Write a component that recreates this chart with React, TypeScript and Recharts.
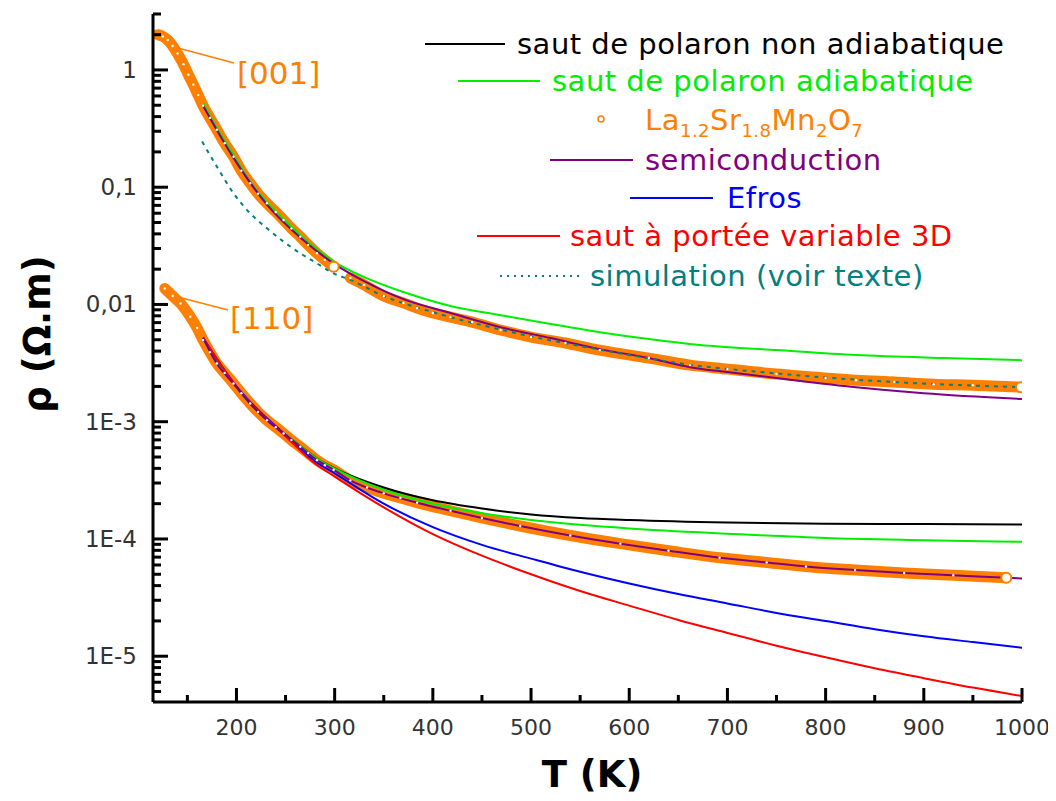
import { LineChart, Line, XAxis, YAxis } from 'recharts'

const FONT = '"DejaVu Sans", Verdana, sans-serif'
const ORANGE = '#ff8000'

// axes
const X_MIN = 115
const X_MAX = 1000
const Y_MIN = 4.07e-6
const Y_MAX = 3
const X_MAJOR = [200, 300, 400, 500, 600, 700, 800, 900, 1000]
const X_MINOR = [150, 250, 350, 450, 550, 650, 750, 850, 950]
const Y_MAJOR = [1e-5, 1e-4, 1e-3, 0.01, 0.1, 1]
const Y_LABELS = ['1E-5', '1E-4', '1E-3', '0,01', '0,1', '1']

// [001] mesures, deux segments
const T_001_A = [120, 125, 130, 135, 140, 146, 151, 156, 161, 166, 173, 180, 188, 197, 205, 214, 222, 231, 240, 248, 256, 265, 273, 282, 290, 299]
const RHO_001_A = [2.0, 1.93, 1.8, 1.6, 1.38, 1.12, 0.91, 0.75, 0.61, 0.495, 0.39, 0.309, 0.237, 0.182, 0.138, 0.108, 0.088, 0.0729, 0.0615, 0.0525, 0.0445, 0.0378, 0.0322, 0.0273, 0.024, 0.021]
const T_001_B = [316, 330, 350, 370, 384, 400, 418, 440, 469, 500, 535, 570, 620, 662, 700, 750, 800, 831, 870, 910, 950, 999]
const RHO_001_B = [0.0168, 0.0147, 0.0118, 0.0103, 0.00931, 0.00845, 0.0078, 0.00708, 0.00605, 0.00527, 0.00469, 0.00408, 0.00349, 0.00304, 0.00281, 0.00255, 0.00236, 0.00226, 0.00218, 0.00209, 0.00205, 0.00197]

// [001] ajustements
const T_001_ADIA = [166, 180, 197, 214, 231, 248, 265, 282, 300, 330, 370, 418, 469, 520, 570, 620, 672, 750, 831, 920, 1000]
const RHO_001_ADIA = [0.52, 0.32, 0.188, 0.111, 0.0745, 0.0535, 0.039, 0.0295, 0.023, 0.0171, 0.01276, 0.0097, 0.0081, 0.0068, 0.0058, 0.00507, 0.00451, 0.00408, 0.0037, 0.00349, 0.00335]
const T_001_SEMI = [166, 197, 231, 265, 300, 330, 370, 418, 469, 520, 570, 620, 662, 700, 750, 831, 900, 1000]
const RHO_001_SEMI = [0.495, 0.178, 0.071, 0.0372, 0.0221, 0.0158, 0.0111, 0.00845, 0.0064, 0.00517, 0.00416, 0.00349, 0.00292, 0.00265, 0.00236, 0.00197, 0.00175, 0.00156]
const T_001_SIM = [165, 180, 197, 214, 231, 248, 265, 282, 299, 316, 350, 400, 469, 570, 662, 750, 831, 920, 1000]
const RHO_001_SIM = [0.245, 0.15, 0.0887, 0.0598, 0.0446, 0.0343, 0.0273, 0.0224, 0.0184, 0.0162, 0.0118, 0.0086, 0.0061, 0.00412, 0.00306, 0.00258, 0.00228, 0.00208, 0.00197]

// [110] mesures
const T_110 = [127, 135, 143, 153, 160, 166, 173, 180, 188, 197, 205, 214, 222, 231, 240, 248, 256, 265, 273, 282, 290, 299, 316, 333, 350, 367, 384, 418, 450, 489, 540, 591, 640, 692, 740, 780, 830, 880, 930, 984]
const RHO_110 = [0.0137, 0.0118, 0.0102, 0.00785, 0.00629, 0.00497, 0.00392, 0.00314, 0.0026, 0.00212, 0.00175, 0.00143, 0.00121, 0.00103, 0.000899, 0.000794, 0.000697, 0.000611, 0.00054, 0.00047, 0.000426, 0.000389, 0.000316, 0.000275, 0.000245, 0.000224, 0.000204, 0.000174, 0.000151, 0.000129, 0.000107, 9.12e-5, 7.94e-5, 6.92e-5, 6.31e-5, 5.82e-5, 5.43e-5, 5.13e-5, 4.9e-5, 4.68e-5]

// [110] ajustements
const T_110_NONADIA = [166, 180, 197, 214, 231, 248, 265, 282, 300, 350, 400, 450, 500, 550, 600, 700, 800, 900, 1005]
const RHO_110_NONADIA = [0.0052, 0.0032, 0.00212, 0.00143, 0.00104, 0.0008, 0.00062, 0.000485, 0.0004, 0.000275, 0.000214, 0.000182, 0.000162, 0.000151, 0.000145, 0.000138, 0.000135, 0.000134, 0.000133]
const T_110_ADIA = [166, 180, 197, 214, 231, 248, 265, 282, 300, 350, 400, 450, 500, 550, 600, 700, 800, 900, 1005]
const RHO_110_ADIA = [0.0052, 0.0032, 0.00212, 0.00143, 0.00104, 0.0008, 0.00062, 0.000485, 0.000398, 0.000263, 0.0002, 0.000166, 0.000145, 0.000132, 0.000123, 0.000111, 0.000102, 9.77e-5, 9.44e-5]
const T_110_SEMI = [166, 180, 197, 214, 231, 248, 265, 282, 299, 316, 350, 384, 418, 450, 489, 540, 591, 640, 692, 740, 780, 830, 880, 930, 1000]
const RHO_110_SEMI = [0.0052, 0.00314, 0.00212, 0.00143, 0.00103, 0.000794, 0.000611, 0.00047, 0.000389, 0.000316, 0.000245, 0.000204, 0.000174, 0.000151, 0.000129, 0.000107, 9.12e-5, 7.94e-5, 6.92e-5, 6.31e-5, 5.82e-5, 5.43e-5, 5.13e-5, 4.9e-5, 4.6e-5]
const T_110_EFROS = [166, 200, 250, 280, 300, 350, 400, 450, 500, 550, 600, 650, 700, 750, 800, 850, 900, 950, 1005]
const RHO_110_EFROS = [0.0052, 0.002, 0.00077, 0.00046, 0.000363, 0.0002, 0.000126, 8.9e-5, 6.8e-5, 5.25e-5, 4.17e-5, 3.39e-5, 2.82e-5, 2.34e-5, 2.0e-5, 1.7e-5, 1.48e-5, 1.32e-5, 1.17e-5]
const T_110_VRH = [166, 200, 250, 280, 300, 350, 400, 450, 500, 550, 600, 650, 700, 750, 800, 850, 900, 950, 1005]
const RHO_110_VRH = [0.0052, 0.00198, 0.00075, 0.00044, 0.00034, 0.000186, 0.00011, 7.2e-5, 5.0e-5, 3.6e-5, 2.7e-5, 2.04e-5, 1.58e-5, 1.23e-5, 9.8e-6, 7.9e-6, 6.5e-6, 5.4e-6, 4.5e-6]

const rows = (ts: number[], rs: number[]) => ts.map((T, i) => ({ T, rho: rs[i] }))

const bandDot = (n: number) => (p: any) => {
  const { cx, cy, index } = p
  if (index === n - 1) return <circle key={index} cx={cx} cy={cy} r={5} fill="#fff" stroke={ORANGE} strokeWidth={2} />
  return <circle key={index} cx={cx} cy={cy} r={1.2} fill="#fff" />
}

function XTick(p: any) {
  const v = p.payload.value
  const major = X_MAJOR.includes(v)
  return (
    <g>
      <line x1={p.x} y1={p.y} x2={p.x} y2={p.y - (major ? 14 : 7)} stroke="#000" strokeWidth={3} />
      {major && (
        <text x={p.x} y={p.y + 33} textAnchor="middle" fontSize={22} fill="#333" fontFamily={FONT}>{v}</text>
      )}
    </g>
  )
}

function YTick(p: any) {
  const v = p.payload.value
  const i = Y_MAJOR.findIndex(m => Math.abs(m - v) / m < 1e-6)
  const major = i >= 0
  return (
    <g>
      <line x1={p.x} y1={p.y} x2={p.x + (major ? 15 : 8)} y2={p.y} stroke="#000" strokeWidth={3} />
      {major && (
        <text x={p.x - 16} y={p.y + 8} textAnchor="end" fontSize={23} fill="#333" fontFamily={FONT}>{Y_LABELS[i]}</text>
      )}
    </g>
  )
}

const xTicks = [...X_MINOR, ...X_MAJOR].sort((a, b) => a - b)
const yTicks: number[] = []
for (let e = -6; e <= 0; e++) {
  for (let m = 1; m <= 9; m++) {
    const v = m * Math.pow(10, e)
    if (v >= Y_MIN && v <= Y_MAX * 1.0001) yTicks.push(v)
  }
}

const LEGEND = [
  { label: 'saut de polaron non adiabatique', color: '#000000', x: 509, y: 36, lx: [417, 497] },
  { label: 'saut de polaron adiabatique', color: '#00ee00', x: 544, y: 73, lx: [450, 532] },
  { label: 'semiconduction', color: '#800080', x: 637, y: 152, lx: [542, 625] },
  { label: 'Efros', color: '#0000ff', x: 719, y: 190, lx: [622, 705] },
  { label: 'saut à portée variable 3D', color: '#ff0000', x: 562, y: 228, lx: [469, 552] },
]

const W = 1048
const H = 793

export default function App() {
  const line = (key: string, data: any[], color: string, dash?: string) => (
    <Line key={key} data={data} dataKey="rho" type="monotone" stroke={color} strokeWidth={2}
      strokeDasharray={dash} dot={false} isAnimationActive={false} />
  )
  return (
    <div style={{ position: 'relative', width: W, height: H, fontFamily: FONT }}>
      <LineChart width={W} height={H} margin={{ top: 6, right: 34, bottom: 0, left: 0 }}>
        <XAxis type="number" dataKey="T" domain={[X_MIN, X_MAX]} allowDataOverflow ticks={xTicks} interval={0}
          height={99} tickSize={0} tickMargin={0} tickLine={false}
          axisLine={{ stroke: '#000', strokeWidth: 3 }} tick={(p: any) => <XTick {...p} />} />
        <YAxis type="number" scale="log" domain={[Y_MIN, Y_MAX]} allowDataOverflow ticks={yTicks} interval={0}
          width={145} tickSize={0} tickMargin={0} tickLine={false}
          axisLine={{ stroke: '#000', strokeWidth: 3 }} tick={(p: any) => <YTick {...p} />} />

        <Line data={rows(T_110, RHO_110)} dataKey="rho" type="monotone" stroke={ORANGE} strokeWidth={11}
          strokeLinecap="round" strokeLinejoin="round" dot={bandDot(T_110.length)} isAnimationActive={false} />
        <Line data={rows(T_001_A, RHO_001_A)} dataKey="rho" type="monotone" stroke={ORANGE} strokeWidth={11}
          strokeLinecap="round" strokeLinejoin="round" dot={bandDot(T_001_A.length)} isAnimationActive={false} />
        <Line data={rows(T_001_B, RHO_001_B)} dataKey="rho" type="monotone" stroke={ORANGE} strokeWidth={11}
          strokeLinecap="round" strokeLinejoin="round" dot={bandDot(T_001_B.length)} isAnimationActive={false} />

        {line('n110', rows(T_110_NONADIA, RHO_110_NONADIA), '#000000')}
        {line('a110', rows(T_110_ADIA, RHO_110_ADIA), '#00ee00')}
        {line('e110', rows(T_110_EFROS, RHO_110_EFROS), '#0000ff')}
        {line('v110', rows(T_110_VRH, RHO_110_VRH), '#ff0000')}
        {line('s110', rows(T_110_SEMI, RHO_110_SEMI), '#800080')}
        {line('a001', rows(T_001_ADIA, RHO_001_ADIA), '#00ee00')}
        {line('s001', rows(T_001_SEMI, RHO_001_SEMI), '#800080')}
        {line('sim001', rows(T_001_SIM, RHO_001_SIM), '#008080', '4 5')}
      </LineChart>

      <svg width={W} height={H} style={{ position: 'absolute', left: 0, top: 0, pointerEvents: 'none' }} fontFamily={FONT}>
        {LEGEND.map(l => (
          <g key={l.label}>
            <line x1={l.lx[0]} x2={l.lx[1]} y1={l.y} y2={l.y} stroke={l.color} strokeWidth={2} />
            <text x={l.x} y={l.y + 10} fontSize={29} letterSpacing={0.5} fill={l.color}>{l.label}</text>
          </g>
        ))}
        <circle cx={593} cy={111} r={3} fill="#fff" stroke={ORANGE} strokeWidth={1.5} />
        <text x={637} y={122} fontSize={29} letterSpacing={0.5} fill={ORANGE}>
          La<tspan dy={7} fontSize={18}>1.2</tspan><tspan dy={-7}>Sr</tspan><tspan dy={7} fontSize={18}>1.8</tspan>
          <tspan dy={-7}>Mn</tspan><tspan dy={7} fontSize={18}>2</tspan><tspan dy={-7}>O</tspan><tspan dy={7} fontSize={18}>7</tspan>
        </text>
        <line x1={492} x2={572} y1={268} y2={268} stroke="#008080" strokeWidth={2} strokeDasharray="2 5" />
        <text x={582} y={278} fontSize={29} letterSpacing={0.5} fill="#008080">simulation (voir texte)</text>

        <line x1={170} y1={40} x2={226} y2={55} stroke={ORANGE} strokeWidth={1.5} />
        <text x={229} y={76} fontSize={31} fill={ORANGE}>[001]</text>
        <line x1={170} y1={289} x2={220} y2={302} stroke={ORANGE} strokeWidth={1.5} />
        <text x={222} y={321} fontSize={31} fill={ORANGE}>[110]</text>

        <text x={584} y={779} fontSize={37} fontWeight="bold" textAnchor="middle" fill="#000">T (K)</text>
        <text transform="translate(42, 326) rotate(-90)" fontSize={37} fontWeight="bold" textAnchor="middle" fill="#000">ρ (Ω.m)</text>
      </svg>
    </div>
  )
}
